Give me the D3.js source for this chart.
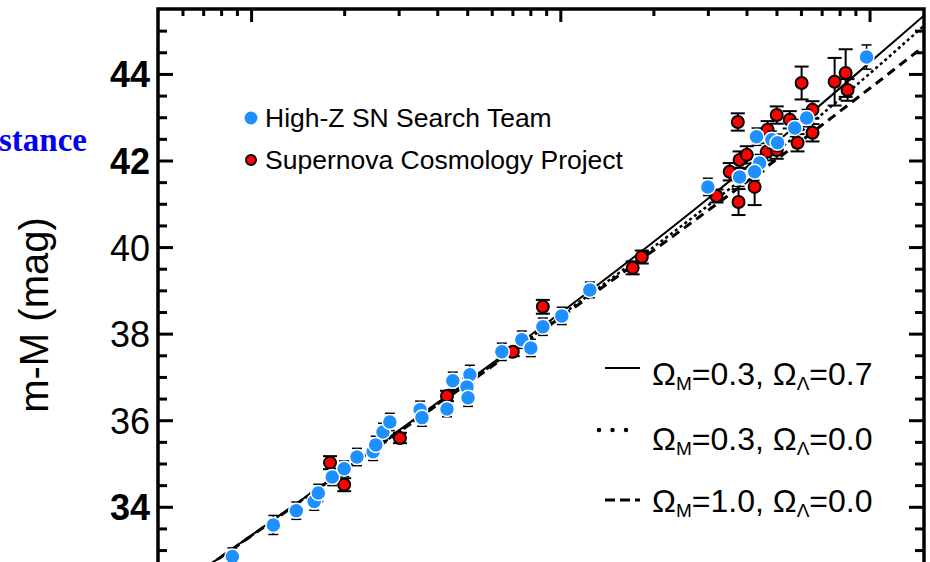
<!DOCTYPE html>
<html>
<head>
<meta charset="utf-8">
<script src="https://cdn.jsdelivr.net/npm/d3@7"></script>
<style>
  html, body { margin: 0; padding: 0; background: #fff; }
  svg { display: block; }
</style>
</head>
<body>
<svg id="chart" width="930" height="562"></svg>
<script>
// ---------------- data ----------------
// High-Z SN Search Team: redshift, distance modulus, 1-sigma error
const highZRedshift = [0.0087, 0.0118, 0.0140, 0.0160, 0.0165, 0.0183, 0.0200, 0.0220, 0.0248, 0.0253,
  0.0267, 0.0281, 0.0352, 0.0357, 0.0430, 0.0449, 0.0510, 0.0499, 0.0503, 0.0647,
  0.0751, 0.0803, 0.0878, 0.1011, 0.1246, 0.300, 0.380, 0.441, 0.425, 0.431,
  0.483, 0.504, 0.573, 0.626, 0.978];
const highZModulus = [32.85, 33.58, 33.91, 34.12, 34.32, 34.69, 34.88, 35.15, 35.27, 35.43,
  35.73, 35.96, 36.24, 36.06, 36.26, 36.91, 37.05, 36.77, 36.52, 37.58,
  37.86, 37.67, 38.16, 38.41, 39.01, 41.39, 41.62, 41.94, 41.74, 42.55,
  42.48, 42.41, 42.75, 42.98, 44.39];
const highZError = [0.20, 0.22, 0.20, 0.20, 0.20, 0.20, 0.18, 0.20, 0.20, 0.20,
  0.20, 0.20, 0.20, 0.20, 0.18, 0.20, 0.22, 0.20, 0.20, 0.20,
  0.20, 0.20, 0.20, 0.20, 0.18, 0.20, 0.22, 0.20, 0.20, 0.20,
  0.20, 0.20, 0.20, 0.20, 0.28];

// Supernova Cosmology Project
const scpRedshift = [0.0180, 0.0200, 0.0303, 0.0430, 0.0702, 0.0878, 0.1714, 0.1834, 0.320, 0.353,
  0.377, 0.375, 0.425, 0.380, 0.401, 0.465, 0.468, 0.501, 0.552, 0.585,
  0.654, 0.654, 0.603, 0.771, 0.837, 0.849, 0.501];
const scpModulus = [35.02, 34.51, 35.59, 36.56, 37.58, 38.62, 39.52, 39.77, 41.18, 41.74,
  41.04, 42.89, 41.39, 42.01, 42.13, 42.20, 42.71, 43.05, 42.94, 42.41,
  42.64, 43.17, 43.79, 43.82, 44.02, 43.63, 42.24];
const scpError = [0.15, 0.15, 0.12, 0.12, 0.10, 0.16, 0.15, 0.15, 0.15, 0.20,
  0.30, 0.20, 0.42, 0.20, 0.20, 0.20, 0.20, 0.20, 0.20, 0.20,
  0.20, 0.20, 0.38, 0.55, 0.55, 0.25, 0.20];

// Model distance moduli (H0 = 65) at tabulated redshifts
const modelRedshift = [0.005, 0.01, 0.02, 0.05, 0.1, 0.2, 0.3, 0.5, 0.7, 1.0, 1.25, 1.5];
const muLambda     = [31.823, 33.336, 34.858, 36.896, 38.476, 40.117, 41.116, 42.422, 43.308, 44.261, 44.861, 45.350];
const muOpen       = [31.819, 33.329, 34.843, 36.860, 38.409, 39.997, 40.955, 42.206, 43.064, 44.005, 44.611, 45.116];
const muFlatMatter = [31.817, 33.325, 34.835, 36.841, 38.371, 39.922, 40.843, 42.023, 42.814, 43.663, 44.200, 44.641];
const modelOmegaM = ["0.3", "0.3", "1.0"];
const modelOmegaL = ["0.7", "0.0", "0.0"];

// axis ticks
const yMajorTicks = [34, 36, 38, 40, 42, 44];
const yMinorTicks = [32, 32.5, 33, 33.5, 34.5, 35, 35.5, 36.5, 37, 37.5, 38.5, 39, 39.5,
  40.5, 41, 41.5, 42.5, 43, 43.5, 44.5, 45];
const yBoldLabels = [34, 42, 44];
const xMajorTicks = [0.01, 0.1, 1];
const xMinorTicks = [0.006, 0.007, 0.008, 0.009, 0.02, 0.03, 0.04, 0.05, 0.06, 0.07, 0.08, 0.09,
  0.2, 0.3, 0.4, 0.5, 0.6, 0.7, 0.8, 0.9];

const legendSeries = ["High-Z SN Search Team", "Supernova Cosmology Project"];
const yAxisTitle = "m-M (mag)";
const sideTitle = "stance";

// ---------------- drawing ----------------
const svg = d3.select("#chart");
const W = 930, H = 562;
svg.append("rect").attr("width", W).attr("height", H).attr("fill", "#fff");

const plot = { left: 158, right: 924, top: 9, bottom: 615 };
const x = d3.scaleLog().domain([0.005, 1.5]).range([plot.left, plot.right]);
const y = d3.scaleLinear().domain([31.5, 45.5]).range([plot.bottom, plot.top]);

const sans = "'Liberation Sans', Arial, Helvetica, sans-serif";

svg.append("defs").append("clipPath").attr("id", "plotClip")
  .append("rect")
  .attr("x", plot.left).attr("y", plot.top)
  .attr("width", plot.right - plot.left).attr("height", plot.bottom - plot.top);

// side title fragment
svg.append("text")
  .attr("x", 87).attr("y", 151)
  .attr("text-anchor", "end")
  .attr("font-family", "'Liberation Serif', 'Times New Roman', serif")
  .attr("font-weight", "bold")
  .attr("font-size", 33)
  .attr("fill", "#0000f0")
  .text(sideTitle);

// y axis title
svg.append("text")
  .attr("transform", "translate(48,315) rotate(-90)")
  .attr("text-anchor", "middle")
  .attr("font-family", sans)
  .attr("font-size", 40)
  .attr("fill", "#000")
  .text(yAxisTitle);

// model curves
const models = [
  { mu: muLambda, dash: null, width: 2 },
  { mu: muOpen, dash: "3,3", width: 2.5 },
  { mu: muFlatMatter, dash: "9,6", width: 3 }
];
const line = d3.line()
  .x(d => x(d[0]))
  .y(d => y(d[1]))
  .curve(d3.curveMonotoneX);

const curves = svg.append("g").attr("clip-path", "url(#plotClip)");
models.forEach(m => {
  curves.append("path")
    .datum(modelRedshift.map((z, i) => [z, m.mu[i]]))
    .attr("d", line)
    .attr("fill", "none")
    .attr("stroke", "#000")
    .attr("stroke-width", m.width)
    .attr("stroke-dasharray", m.dash);
});

// data points
function drawSeries(zs, mus, errs, opts) {
  const data = zs.map((z, i) => ({ z, mu: mus[i], e: errs[i] }));
  const g = svg.append("g").attr("clip-path", "url(#plotClip)");
  const bars = g.append("g").attr("stroke", "#000").attr("stroke-width", opts.barWidth);
  data.forEach(d => {
    const cx = x(d.z), y0 = y(d.mu - d.e), y1 = y(d.mu + d.e);
    bars.append("line").attr("x1", cx).attr("x2", cx).attr("y1", y0).attr("y2", y1);
    bars.append("line").attr("x1", cx - opts.cap).attr("x2", cx + opts.cap).attr("y1", y0).attr("y2", y0);
    bars.append("line").attr("x1", cx - opts.cap).attr("x2", cx + opts.cap).attr("y1", y1).attr("y2", y1);
  });
  g.selectAll("circle").data(data).join("circle")
    .attr("cx", d => x(d.z))
    .attr("cy", d => y(d.mu))
    .attr("r", opts.r)
    .attr("fill", opts.fill)
    .attr("stroke", opts.stroke)
    .attr("stroke-width", opts.strokeWidth);
}

drawSeries(scpRedshift, scpModulus, scpError,
  { r: 6, fill: "#ff0000", stroke: "#000", strokeWidth: 2, barWidth: 2, cap: 7 });
drawSeries(highZRedshift, highZModulus, highZError,
  { r: 7.5, fill: "#1e8fff", stroke: "#fff", strokeWidth: 1.5, barWidth: 1.5, cap: 5 });

// axes: ticks drawn inside the frame
function styleAxis(g) {
  g.select(".domain").remove();
  g.selectAll(".tick line").attr("stroke", "#000").attr("stroke-width", 3);
}
const leftMajor = svg.append("g").attr("transform", `translate(${plot.left},0)`)
  .call(d3.axisLeft(y).tickValues(yMajorTicks).tickSize(-15).tickPadding(8).tickFormat(d3.format("d")));
styleAxis(leftMajor);
leftMajor.selectAll(".tick text")
  .attr("font-family", sans)
  .attr("font-size", 36)
  .attr("font-weight", d => yBoldLabels.includes(d) ? "bold" : "normal")
  .attr("fill", "#000")
  .attr("dy", "0.36em");
styleAxis(svg.append("g").attr("transform", `translate(${plot.left},0)`)
  .call(d3.axisLeft(y).tickValues(yMinorTicks).tickSize(-9).tickFormat("")));

styleAxis(svg.append("g").attr("transform", `translate(${plot.right},0)`)
  .call(d3.axisRight(y).tickValues(yMajorTicks).tickSize(-15).tickFormat("")));
styleAxis(svg.append("g").attr("transform", `translate(${plot.right},0)`)
  .call(d3.axisRight(y).tickValues(yMinorTicks).tickSize(-9).tickFormat("")));

styleAxis(svg.append("g").attr("transform", `translate(0,${plot.top})`)
  .call(d3.axisTop(x).tickValues(xMajorTicks).tickSize(-13).tickFormat("")));
styleAxis(svg.append("g").attr("transform", `translate(0,${plot.top})`)
  .call(d3.axisTop(x).tickValues(xMinorTicks).tickSize(-7).tickFormat("")));

// frame
svg.append("rect")
  .attr("x", plot.left).attr("y", plot.top)
  .attr("width", plot.right - plot.left).attr("height", plot.bottom - plot.top)
  .attr("fill", "none").attr("stroke", "#000").attr("stroke-width", 3.5);

// series legend
const legendColors = [{ fill: "#1e8fff", stroke: "none", r: 6.5, sw: 0 }, { fill: "#ff0000", stroke: "#000", r: 5, sw: 2 }];
legendSeries.forEach((label, i) => {
  const cy = 118 + i * 42;
  svg.append("circle").attr("cx", 251).attr("cy", cy).attr("r", legendColors[i].r)
    .attr("fill", legendColors[i].fill).attr("stroke", legendColors[i].stroke).attr("stroke-width", legendColors[i].sw);
  svg.append("text").attr("x", 265).attr("y", cy + 9)
    .attr("font-family", sans).attr("font-size", 26.5).attr("fill", "#000")
    .text(label);
});

// model legend
const modelLegendY = [385, 450, 512];
const modelLegendSample = [
  { x1: 605, x2: 640, dash: null, width: 2, dy: -17 },
  { x1: 599, x2: 630, dash: "0,13.5", width: 4.5, dy: -20, cap: "round" },
  { x1: 605, x2: 640, dash: "10,5", width: 3, dy: -12 }
];
modelOmegaM.forEach((om, i) => {
  const by = modelLegendY[i];
  const s = modelLegendSample[i];
  svg.append("line")
    .attr("x1", s.x1).attr("x2", s.x2).attr("y1", by + s.dy).attr("y2", by + s.dy)
    .attr("stroke", "#000").attr("stroke-width", s.width)
    .attr("stroke-dasharray", s.dash)
    .attr("stroke-linecap", s.cap || "butt");
  const t = svg.append("text").attr("x", 652).attr("y", by)
    .attr("font-family", sans).attr("font-size", 32).attr("fill", "#000");
  t.append("tspan").text("\u03A9");
  t.append("tspan").attr("font-size", 19).attr("dy", 5).text("M");
  t.append("tspan").attr("dy", -5).text(`=${om}, \u03A9`);
  t.append("tspan").attr("font-size", 19).attr("dy", 5).text("\u039B");
  t.append("tspan").attr("dy", -5).text(`=${modelOmegaL[i]}`);
});
</script>
</body>
</html>
